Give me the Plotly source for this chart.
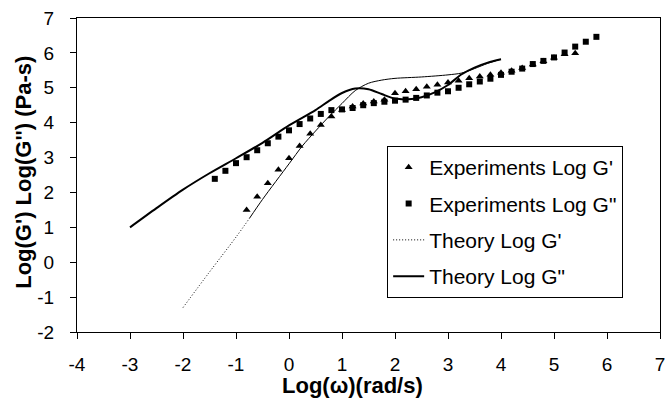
import plotly.graph_objects as go

# ---- data ----
exp_gp_x = [-0.8, -0.6, -0.4, -0.2, 0.0, 0.2, 0.4, 0.6, 0.8, 1.0, 1.2, 1.4, 1.6, 1.8,
            2.0, 2.2, 2.4, 2.6, 2.8, 3.0, 3.2, 3.4, 3.6, 3.8, 4.0, 4.2, 4.4, 4.6,
            4.8, 5.0, 5.2, 5.4]
exp_gp_y = [1.50, 1.88, 2.26, 2.65, 2.98, 3.33, 3.68, 3.93, 4.18, 4.36, 4.46, 4.55, 4.61, 4.66,
            4.84, 4.90, 4.96, 5.03, 5.09, 5.15, 5.20, 5.27, 5.32, 5.37, 5.43, 5.49, 5.57, 5.67,
            5.76, 5.86, 5.96, 5.99]

exp_gpp_x = [-1.4, -1.2, -1.0, -0.8, -0.6, -0.4, -0.2, 0.0, 0.2, 0.4, 0.6, 0.8, 1.0, 1.2,
             1.4, 1.6, 1.8, 2.0, 2.2, 2.4, 2.6, 2.8, 3.0, 3.2, 3.4, 3.6, 3.8, 4.0,
             4.2, 4.4, 4.6, 4.8, 5.0, 5.2, 5.4, 5.6, 5.8]
exp_gpp_y = [2.39, 2.62, 2.84, 3.01, 3.21, 3.41, 3.60, 3.78, 3.96, 4.12, 4.25, 4.36, 4.38, 4.42,
             4.50, 4.56, 4.60, 4.63, 4.66, 4.71, 4.78, 4.86, 4.90, 5.00, 5.10, 5.18, 5.26, 5.37,
             5.46, 5.55, 5.68, 5.77, 5.87, 6.01, 6.18, 6.32, 6.46]

th_gp_x = [-2.0, -1.5, -1.0, -0.75, -0.5, 0.0, 0.25, 0.5, 0.75, 1.0, 1.25, 1.5, 1.75, 2.0,
           2.5, 3.0, 3.25, 3.5, 3.75, 4.0]
th_gp_y = [-1.30, -0.28, 0.72, 1.25, 1.80, 2.82, 3.33, 3.76, 4.17, 4.55, 4.92, 5.13, 5.22, 5.27,
           5.31, 5.37, 5.42, 5.55, 5.70, 5.82]
dotted_until = -0.75  # theory G' appears dotted at low frequency

th_gpp_x = [-3.0, -2.5, -2.0, -1.5, -1.0, -0.5, 0.0, 0.5, 0.75, 1.0, 1.25, 1.5, 1.75, 2.0,
            2.25, 2.5, 2.75, 3.0, 3.25, 3.5, 3.75, 4.0]
th_gpp_y = [1.00, 1.55, 2.08, 2.55, 2.98, 3.42, 3.92, 4.36, 4.62, 4.85, 4.98, 4.96, 4.82, 4.69,
            4.67, 4.73, 4.87, 5.08, 5.38, 5.58, 5.72, 5.82]

x_ticks = [-4, -3, -2, -1, 0, 1, 2, 3, 4, 5, 6, 7]
y_ticks = [-2, -1, 0, 1, 2, 3, 4, 5, 6, 7]
x_title = "Log(ω)(rad/s)"
y_title = "Log(G') Log(G'') (Pa-s)"

FONT = "Liberation Sans, Arial, sans-serif"

split = max(i for i, v in enumerate(th_gp_x) if v <= dotted_until)

fig = go.Figure()
fig.add_trace(go.Scatter(x=exp_gp_x, y=exp_gp_y, mode="markers", name="Experiments Log G'",
                         legendgroup="a",
                         marker=dict(symbol="triangle-up", size=7, color="black")))
fig.add_trace(go.Scatter(x=exp_gpp_x, y=exp_gpp_y, mode="markers", name="Experiments Log G\"",
                         legendgroup="b",
                         marker=dict(symbol="square", size=6, color="black")))
fig.add_trace(go.Scatter(x=th_gp_x[:split + 1], y=th_gp_y[:split + 1], mode="lines",
                         name="Theory Log G'", legendgroup="c",
                         line=dict(color="black", width=1, dash="1px,2px", shape="spline")))
fig.add_trace(go.Scatter(x=th_gp_x[split:], y=th_gp_y[split:], mode="lines",
                         name="Theory Log G'", legendgroup="c", showlegend=False,
                         line=dict(color="black", width=1, shape="spline", smoothing=0.8)))
fig.add_trace(go.Scatter(x=th_gpp_x, y=th_gpp_y, mode="lines", name="Theory Log G\"",
                         legendgroup="d",
                         line=dict(color="black", width=2, shape="spline", smoothing=0.8)))

axis_common = dict(showgrid=False, zeroline=False, showline=True, linecolor="black",
                   linewidth=1, mirror=True, ticks="outside", ticklen=6, tickcolor="black",
                   automargin=False,
                   tickfont=dict(family=FONT, size=19, color="black"))

fig.update_xaxes(range=[-4, 7], tickvals=x_ticks, ticktext=[str(v) for v in x_ticks],
                 ticklabelstandoff=9, **axis_common)
fig.update_yaxes(range=[-2, 7], tickvals=y_ticks, ticktext=[str(v) for v in y_ticks],
                 ticklabelstandoff=12, **axis_common)

title_font = dict(family=FONT, size=22, color="black")
fig.add_annotation(text="<b>" + x_title + "</b>", xref="paper", yref="paper",
                   x=0.472, y=0, yanchor="middle", xanchor="center", yshift=-53,
                   showarrow=False, font=title_font)
fig.add_annotation(text="<b>" + y_title + "</b>", xref="paper", yref="paper",
                   x=0, y=0.507, xanchor="center", yanchor="middle", xshift=-53,
                   textangle=-90, showarrow=False, font=title_font)

fig.update_layout(
    width=667, height=402,
    margin=dict(l=77, r=7, t=18, b=70),
    paper_bgcolor="white", plot_bgcolor="white",
    font=dict(family=FONT, color="black"),
    legend=dict(x=0.532, y=0.592, xanchor="left", yanchor="top",
                bordercolor="black", borderwidth=1, bgcolor="white",
                font=dict(family=FONT, size=21, color="black"),
                itemwidth=31, tracegroupgap=6, traceorder="grouped"),
)

fig.write_html("out.html", config={"displayModeBar": False},
               post_script="document.body.style.margin='0';")
